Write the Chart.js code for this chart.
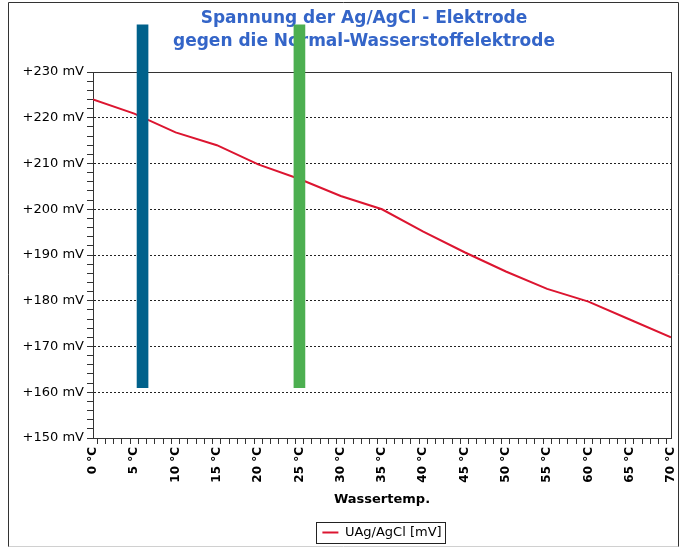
<!DOCTYPE html>
<html>
<head>
<meta charset="utf-8">
<script src="https://cdn.jsdelivr.net/npm/chart.js@4/dist/chart.umd.min.js"></script>
<style>
  html, body { margin: 0; padding: 0; background: #fff; }
  #wrap { width: 683px; height: 549px; position: relative; }
</style>
</head>
<body>
<div id="wrap"><canvas id="chart" width="683" height="549"></canvas></div>
<script>
// Daten
const titleLines = ['Spannung der Ag/AgCl - Elektrode', 'gegen die Normal-Wasserstoffelektrode'];
const temps = [0, 5, 10, 15, 20, 25, 30, 35, 40, 45, 50, 55, 60, 65, 70];
const voltages = [224.0, 220.9, 216.8, 214.0, 209.8, 206.6, 202.9, 200.0, 195.1, 190.6, 186.4, 182.6, 179.8, 175.9, 172.0];
const markerTemps = [6, 25];
const markerLow = 161;
const markerHigh = 240.3;
const yMin = 150, yMax = 230;
const xMin = 0, xMax = 70;
const seriesLabel = 'UAg/AgCl [mV]';
const xTitle = 'Wassertemp.';

const FONT = "'DejaVu Sans', sans-serif";

// Rahmen, Titel, Legendenkasten
const decorPlugin = {
  id: 'decor',
  beforeDraw(chart) {
    const c = chart.ctx;
    c.save();
    c.fillStyle = '#fff';
    c.fillRect(0, 0, chart.width, chart.height);
    c.lineWidth = 1;
    c.strokeStyle = '#333';
    c.beginPath();
    c.moveTo(8.5, 547); c.lineTo(8.5, 2.5); c.lineTo(678.5, 2.5); c.lineTo(678.5, 547);
    c.stroke();
    c.strokeStyle = '#d0d0d0';
    c.beginPath();
    c.moveTo(8.5, 546.5); c.lineTo(678.5, 546.5);
    c.stroke();
    c.restore();
  },
  beforeDatasetsDraw(chart) {
    const c = chart.ctx;
    const a = chart.chartArea;
    c.save();
    c.strokeStyle = '#333';
    c.lineWidth = 1;
    c.strokeRect(Math.round(a.left) + 0.5, Math.round(a.top) + 0.5, Math.round(a.right - a.left), Math.round(a.bottom - a.top));
    c.fillStyle = '#3465c8';
    c.font = 'bold 17px ' + FONT;
    c.textAlign = 'center';
    c.textBaseline = 'middle';
    c.fillText(titleLines[0], 364, 19);
    c.fillText(titleLines[1], 364, 42);
    c.restore();
  },
  afterDraw(chart) {
    const box = chart.legend.legendHitBoxes[0];
    if (!box) return;
    const c = chart.ctx;
    c.save();
    c.strokeStyle = '#222';
    c.lineWidth = 1;
    c.strokeRect(Math.round(box.left - 6) + 0.5, Math.round(box.top - 4) + 0.5, Math.round(box.width + 10), Math.round(box.height + 8));
    c.restore();
  }
};

new Chart(document.getElementById('chart'), {
  type: 'line',
  data: {
    datasets: [{
      type: 'line',
      label: seriesLabel,
      data: temps.map((t, i) => ({ x: t, y: voltages[i] })),
      borderColor: '#dc1530',
      backgroundColor: '#dc1530',
      borderWidth: 2,
      pointRadius: 0,
      tension: 0,
      order: 1
    }, {
      type: 'bar',
      label: 'marker',
      data: markerTemps.map(t => ({ x: t, y: [markerLow, markerHigh] })),
      backgroundColor: ['#00618b', '#4caf50'],
      barThickness: 11,
      clip: false,
      order: 0
    }]
  },
  options: {
    responsive: false,
    animation: false,
    layout: { padding: { top: 72, left: 8, right: 12, bottom: 0 } },
    plugins: {
      title: { display: false },
      tooltip: { enabled: false },
      legend: {
        position: 'bottom',
        fullSize: false,
        labels: {
          filter: item => item.datasetIndex === 0,
          usePointStyle: true,
          pointStyle: 'line',
          pointStyleWidth: 16,
          color: '#000',
          padding: 8,
          font: { family: FONT, size: 13 }
        }
      }
    },
    scales: {
      x: {
        type: 'linear',
        min: xMin,
        max: xMax,
        offset: false,
        afterFit: s => { s.height = 80; s.paddingRight = 0; s.paddingLeft = 0; },
        border: { display: true, color: '#333', width: 1 },
        grid: { drawOnChartArea: false, drawTicks: true, tickLength: 6, tickColor: '#333' },
        ticks: {
          stepSize: 1,
          maxTicksLimit: 100,
          autoSkip: false,
          minRotation: 90,
          maxRotation: 90,
          padding: 3,
          color: '#000',
          font: { family: FONT, size: 12, weight: 'bold' },
          callback: v => (v % 5 === 0 ? v + ' °C' : '')
        },
        title: {
          display: true,
          text: xTitle,
          color: '#000',
          font: { family: FONT, size: 13, weight: 'bold' },
          padding: { top: 4, bottom: 11 }
        }
      },
      y: {
        min: yMin,
        max: yMax,
        afterFit: s => { s.width = 85; },
        border: { display: true, color: '#333', width: 1, dash: [2, 2] },
        grid: {
          drawTicks: true,
          tickLength: 6,
          tickColor: '#333',
          tickBorderDash: [],
          lineWidth: 1,
          color: c => (c.tick && c.tick.value % 10 === 0 ? '#222' : 'rgba(0,0,0,0)')
        },
        ticks: {
          stepSize: 2,
          maxTicksLimit: 100,
          autoSkip: false,
          padding: 3,
          color: '#000',
          font: { family: FONT, size: 13 },
          callback: v => (v % 10 === 0 ? '+' + v + ' mV' : '')
        }
      }
    }
  },
  plugins: [decorPlugin]
});
</script>
</body>
</html>
